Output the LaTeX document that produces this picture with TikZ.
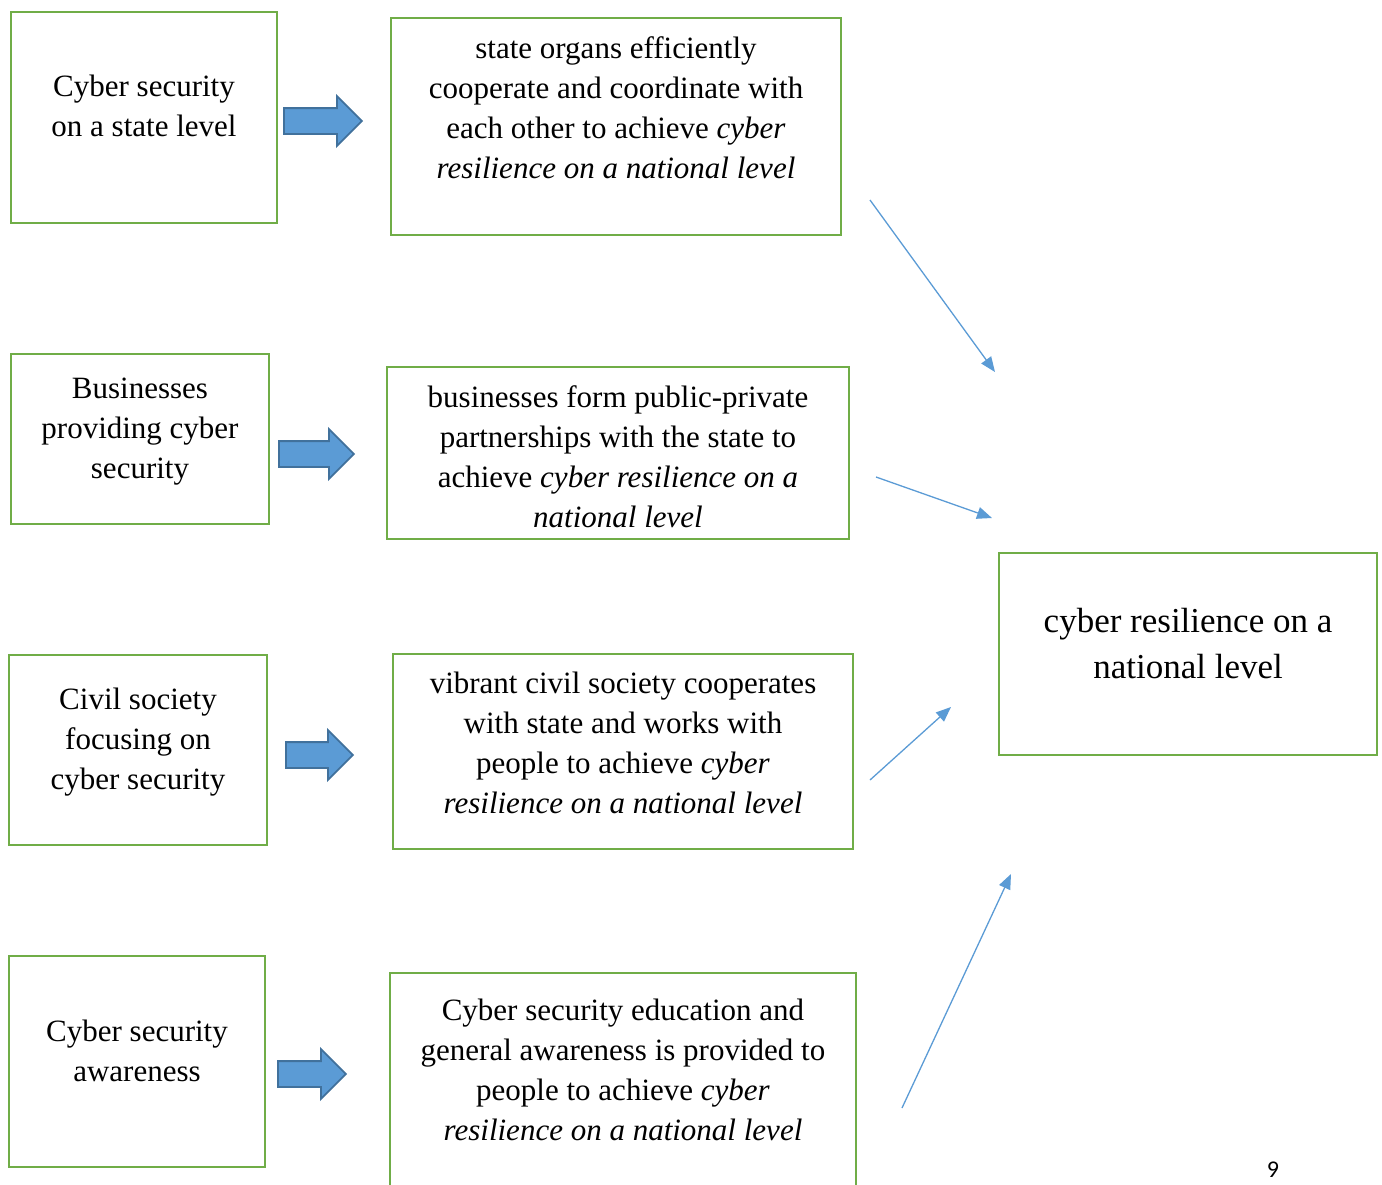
\documentclass[tikz,border=0pt]{standalone}
\usepackage{fontspec}
\setmainfont{Liberation Serif}
\newfontfamily\pagefont{Carlito}
\usetikzlibrary{shapes.arrows,arrows.meta,fit}
\definecolor{boxgreen}{HTML}{70AD47}
\definecolor{arrowblue}{HTML}{5B9BD5}
\definecolor{arrowedge}{HTML}{41719C}
\begin{document}
\begin{tikzpicture}[x=1pt, y=-1pt,
  box/.style={draw=boxgreen, line width=2.5pt, inner sep=0pt},
  txt/.style={align=center, font=\fontsize{31}{40}\selectfont, inner sep=0pt},
  bigtxt/.style={align=center, font=\fontsize{35}{46}\selectfont, inner sep=0pt},
  blockarrow/.style={single arrow, fill=arrowblue, draw=arrowedge, line width=1.8pt,
    inner xsep=0pt, inner ysep=12pt, single arrow head extend=12, anchor=tail},
  thinarrow/.style={draw=arrowblue, line width=1.3pt, -{Triangle[length=15pt,width=12pt]}}]
\useasboundingbox (0,0) rectangle (1382,1184);
\clip (0,0) rectangle (1382,1184);
% left column
\node[box, fit={(11,12) (277,223)}] (state) {};
\node[box, fit={(11,354) (269,524)}] (business) {};
\node[box, fit={(9,655) (267,845)}] (civil) {};
\node[box, fit={(9,956) (265,1167)}] (aware) {};
\node[txt] (stateT) at (144,106) {Cyber security\\on a state level};
\node[txt] (businessT) at (140,432) {Businesses\\providing cyber\\security};
\node[txt] (civilT) at (138,742) {Civil society\\focusing on\\cyber security};
\node[txt] (awareT) at (137,1051) {Cyber security\\awareness};
% block arrows
\node[blockarrow, minimum height=78] (ar1) at (283,121) {};
\node[blockarrow, minimum height=75] (ar2) at (278,454) {};
\node[blockarrow, minimum height=67] (ar3) at (285,755) {};
\node[blockarrow, minimum height=68] (ar4) at (277,1074) {};
% middle column
\node[box, fit={(391,18) (841,235)}] (organs) {};
\node[box, fit={(387,367) (849,539)}] (partners) {};
\node[box, fit={(393,654) (853,849)}] (society) {};
\node[box, fit={(390,973) (856,1200)}] (education) {};
\node[txt] (organsT) at (616,108) {state organs efficiently\\cooperate and coordinate with\\each other to achieve \textit{cyber}\\\textit{resilience on a national level}};
\node[txt] (partnersT) at (618,457) {businesses form public-private\\partnerships with the state to\\achieve \textit{cyber resilience on a}\\\textit{national level}};
\node[txt] (societyT) at (623,743) {vibrant civil society cooperates\\with state and works with\\people to achieve \textit{cyber}\\\textit{resilience on a national level}};
\node[txt] (educationT) at (623,1070) {Cyber security education and\\general awareness is provided to\\people to achieve \textit{cyber}\\\textit{resilience on a national level}};
% result
\node[box, fit={(999,553) (1377,755)}] (result) {};
\node[bigtxt] (resultT) at (1188,644) {cyber resilience on a\\national level};
% thin arrows
\coordinate (s1) at (870,200); \coordinate (e1) at (995,372);
\coordinate (s2) at (876,477); \coordinate (e2) at (992,518);
\coordinate (s3) at (870,780); \coordinate (e3) at (951,707);
\coordinate (s4) at (902,1108); \coordinate (e4) at (1011,874);
\draw[thinarrow] (s1) -- (e1);
\draw[thinarrow] (s2) -- (e2);
\draw[thinarrow] (s3) -- (e3);
\draw[thinarrow] (s4) -- (e4);
% page number
\node[anchor=base, font=\pagefont\fontsize{24}{28}\selectfont, inner sep=0pt] (page) at (1273,1177) {9};
\end{tikzpicture}
\end{document}
